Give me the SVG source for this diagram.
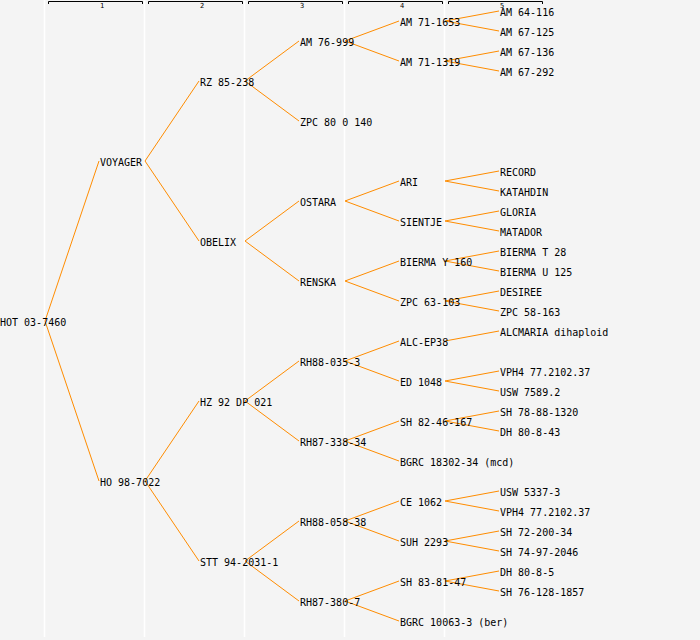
<svg xmlns="http://www.w3.org/2000/svg" width="700" height="640" viewBox="0 0 700 640">
<style>
.bg{fill:#f4f4f4}
.sep{stroke:#ffffff;stroke-width:1.5}
.br{fill:none;stroke:#000;stroke-width:1}
.bl{font-family:"DejaVu Sans Mono","Liberation Mono",monospace;font-size:7px;fill:#000}
text.n{font-family:"DejaVu Sans Mono","Liberation Mono",monospace;font-size:10px;fill:#000}
#edges line{stroke:#ff8c00;stroke-width:1}
</style>
<rect class="bg" x="0" y="0" width="700" height="640"/>
<g id="grid">
<line class="sep" x1="44.5" y1="0" x2="44.5" y2="637"/>
<line class="sep" x1="144.5" y1="0" x2="144.5" y2="637"/>
<line class="sep" x1="244.5" y1="0" x2="244.5" y2="637"/>
<line class="sep" x1="344.5" y1="0" x2="344.5" y2="637"/>
<line class="sep" x1="444.5" y1="0" x2="444.5" y2="637"/>
</g>
<g id="levels">
<path class="br" d="M48.5,4 V1.5 H142.5 V4"/><text class="bl" x="100" y="7.5">1</text>
<path class="br" d="M148.5,4 V1.5 H242.5 V4"/><text class="bl" x="200" y="7.5">2</text>
<path class="br" d="M248.5,4 V1.5 H342.5 V4"/><text class="bl" x="300" y="7.5">3</text>
<path class="br" d="M348.5,4 V1.5 H442.5 V4"/><text class="bl" x="400" y="7.5">4</text>
<path class="br" d="M448.5,4 V1.5 H542.5 V4"/><text class="bl" x="500" y="7.5">5</text>
</g>
<g id="edges">
<line x1="45" y1="321" x2="99" y2="161"/>
<line x1="45" y1="321" x2="99" y2="481"/>
<line x1="145" y1="161" x2="199" y2="81"/>
<line x1="145" y1="161" x2="199" y2="241"/>
<line x1="145" y1="481" x2="199" y2="401"/>
<line x1="145" y1="481" x2="199" y2="561"/>
<line x1="245" y1="81" x2="299" y2="41"/>
<line x1="245" y1="81" x2="299" y2="121"/>
<line x1="245" y1="241" x2="299" y2="201"/>
<line x1="245" y1="241" x2="299" y2="281"/>
<line x1="245" y1="401" x2="299" y2="361"/>
<line x1="245" y1="401" x2="299" y2="441"/>
<line x1="245" y1="561" x2="299" y2="521"/>
<line x1="245" y1="561" x2="299" y2="601"/>
<line x1="345" y1="41" x2="399" y2="21"/>
<line x1="345" y1="41" x2="399" y2="61"/>
<line x1="345" y1="201" x2="399" y2="181"/>
<line x1="345" y1="201" x2="399" y2="221"/>
<line x1="345" y1="281" x2="399" y2="261"/>
<line x1="345" y1="281" x2="399" y2="301"/>
<line x1="345" y1="361" x2="399" y2="341"/>
<line x1="345" y1="361" x2="399" y2="381"/>
<line x1="345" y1="441" x2="399" y2="421"/>
<line x1="345" y1="441" x2="399" y2="461"/>
<line x1="345" y1="521" x2="399" y2="501"/>
<line x1="345" y1="521" x2="399" y2="541"/>
<line x1="345" y1="601" x2="399" y2="581"/>
<line x1="345" y1="601" x2="399" y2="621"/>
<line x1="445" y1="21" x2="499" y2="11"/>
<line x1="445" y1="21" x2="499" y2="31"/>
<line x1="445" y1="61" x2="499" y2="51"/>
<line x1="445" y1="61" x2="499" y2="71"/>
<line x1="445" y1="181" x2="499" y2="171"/>
<line x1="445" y1="181" x2="499" y2="191"/>
<line x1="445" y1="221" x2="499" y2="211"/>
<line x1="445" y1="221" x2="499" y2="231"/>
<line x1="445" y1="261" x2="499" y2="251"/>
<line x1="445" y1="261" x2="499" y2="271"/>
<line x1="445" y1="301" x2="499" y2="291"/>
<line x1="445" y1="301" x2="499" y2="311"/>
<line x1="445" y1="341" x2="499" y2="331"/>
<line x1="445" y1="381" x2="499" y2="371"/>
<line x1="445" y1="381" x2="499" y2="391"/>
<line x1="445" y1="421" x2="499" y2="411"/>
<line x1="445" y1="421" x2="499" y2="431"/>
<line x1="445" y1="501" x2="499" y2="491"/>
<line x1="445" y1="501" x2="499" y2="511"/>
<line x1="445" y1="541" x2="499" y2="531"/>
<line x1="445" y1="541" x2="499" y2="551"/>
<line x1="445" y1="581" x2="499" y2="571"/>
<line x1="445" y1="581" x2="499" y2="591"/>
</g>
<g id="n-hot"><text class="n" x="0" y="326">HOT 03-7460</text></g>
<g id="n-voyager"><text class="n" x="100" y="166">VOYAGER</text></g>
<g id="n-ho"><text class="n" x="100" y="486">HO 98-7022</text></g>
<g id="n-rz"><text class="n" x="200" y="86">RZ 85-238</text></g>
<g id="n-obelix"><text class="n" x="200" y="246">OBELIX</text></g>
<g id="n-hz"><text class="n" x="200" y="406">HZ 92 DP 021</text></g>
<g id="n-stt"><text class="n" x="200" y="566">STT 94-2031-1</text></g>
<g id="n-am76"><text class="n" x="300" y="46">AM 76-999</text></g>
<g id="n-zpc80"><text class="n" x="300" y="126">ZPC 80 0 140</text></g>
<g id="n-ostara"><text class="n" x="300" y="206">OSTARA</text></g>
<g id="n-renska"><text class="n" x="300" y="286">RENSKA</text></g>
<g id="n-rh88035"><text class="n" x="300" y="366">RH88-035-3</text></g>
<g id="n-rh87338"><text class="n" x="300" y="446">RH87-338-34</text></g>
<g id="n-rh88058"><text class="n" x="300" y="526">RH88-058-38</text></g>
<g id="n-rh87380"><text class="n" x="300" y="606">RH87-380-7</text></g>
<g id="n-am711653"><text class="n" x="400" y="26">AM 71-1653</text></g>
<g id="n-am711319"><text class="n" x="400" y="66">AM 71-1319</text></g>
<g id="n-ari"><text class="n" x="400" y="186">ARI</text></g>
<g id="n-sientje"><text class="n" x="400" y="226">SIENTJE</text></g>
<g id="n-biermay"><text class="n" x="400" y="266">BIERMA Y 160</text></g>
<g id="n-zpc63"><text class="n" x="400" y="306">ZPC 63-103</text></g>
<g id="n-alcep"><text class="n" x="400" y="346">ALC-EP38</text></g>
<g id="n-ed"><text class="n" x="400" y="386">ED 1048</text></g>
<g id="n-sh8246"><text class="n" x="400" y="426">SH 82-46-167</text></g>
<g id="n-bgrc18302"><text class="n" x="400" y="466">BGRC 18302-34 (mcd)</text></g>
<g id="n-ce"><text class="n" x="400" y="506">CE 1062</text></g>
<g id="n-suh"><text class="n" x="400" y="546">SUH 2293</text></g>
<g id="n-sh8381"><text class="n" x="400" y="586">SH 83-81-47</text></g>
<g id="n-bgrc10063"><text class="n" x="400" y="626">BGRC 10063-3 (ber)</text></g>
<g id="n-am64"><text class="n" x="500" y="16">AM 64-116</text></g>
<g id="n-am67125"><text class="n" x="500" y="36">AM 67-125</text></g>
<g id="n-am67136"><text class="n" x="500" y="56">AM 67-136</text></g>
<g id="n-am67292"><text class="n" x="500" y="76">AM 67-292</text></g>
<g id="n-record"><text class="n" x="500" y="176">RECORD</text></g>
<g id="n-katahdin"><text class="n" x="500" y="196">KATAHDIN</text></g>
<g id="n-gloria"><text class="n" x="500" y="216">GLORIA</text></g>
<g id="n-matador"><text class="n" x="500" y="236">MATADOR</text></g>
<g id="n-biermat"><text class="n" x="500" y="256">BIERMA T 28</text></g>
<g id="n-biermau"><text class="n" x="500" y="276">BIERMA U 125</text></g>
<g id="n-desiree"><text class="n" x="500" y="296">DESIREE</text></g>
<g id="n-zpc58"><text class="n" x="500" y="316">ZPC 58-163</text></g>
<g id="n-alcmaria"><text class="n" x="500" y="336">ALCMARIA dihaploid</text></g>
<g id="n-vph4a"><text class="n" x="500" y="376">VPH4 77.2102.37</text></g>
<g id="n-usw7589"><text class="n" x="500" y="396">USW 7589.2</text></g>
<g id="n-sh7888"><text class="n" x="500" y="416">SH 78-88-1320</text></g>
<g id="n-dh80843"><text class="n" x="500" y="436">DH 80-8-43</text></g>
<g id="n-usw5337"><text class="n" x="500" y="496">USW 5337-3</text></g>
<g id="n-vph4b"><text class="n" x="500" y="516">VPH4 77.2102.37</text></g>
<g id="n-sh72200"><text class="n" x="500" y="536">SH 72-200-34</text></g>
<g id="n-sh7497"><text class="n" x="500" y="556">SH 74-97-2046</text></g>
<g id="n-dh8085"><text class="n" x="500" y="576">DH 80-8-5</text></g>
<g id="n-sh76128"><text class="n" x="500" y="596">SH 76-128-1857</text></g>
</svg>
